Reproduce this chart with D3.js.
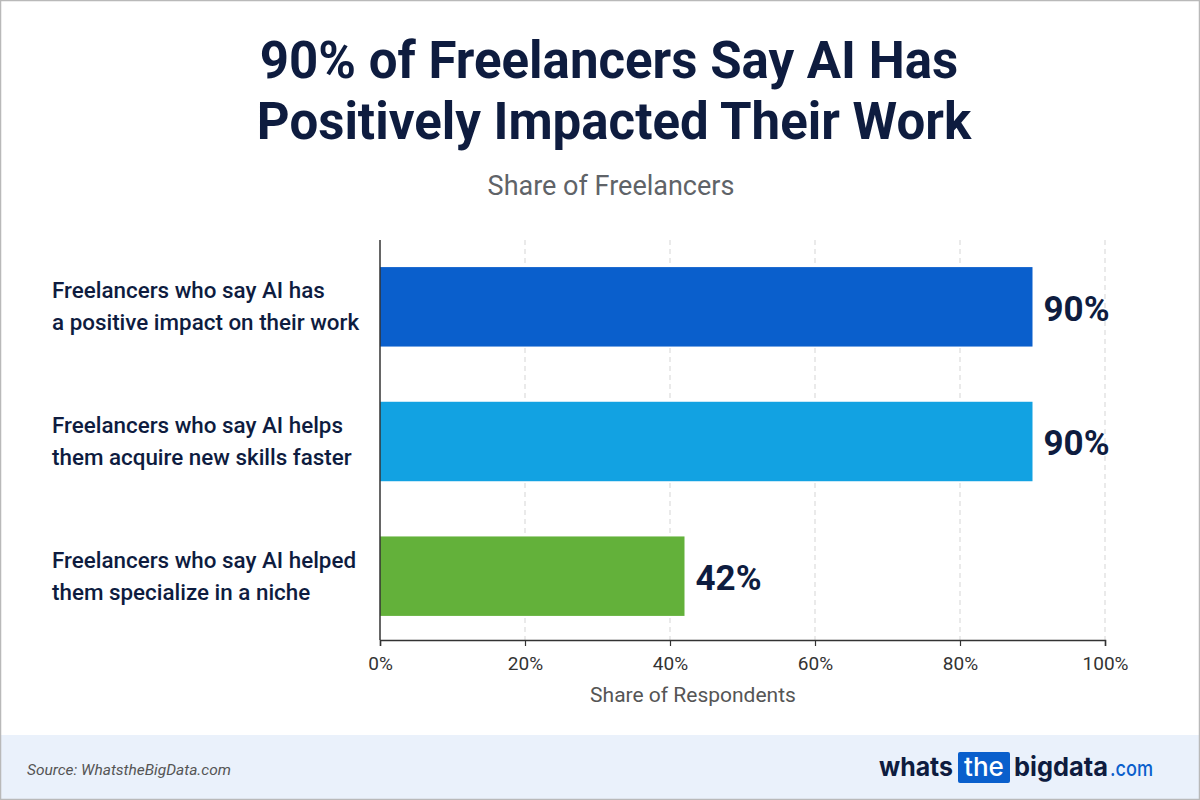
<!DOCTYPE html>
<html><head><meta charset="utf-8">
<script src="https://cdn.jsdelivr.net/npm/d3@7/dist/d3.min.js"></script>
<style>
html,body{margin:0;padding:0;background:#fff;}
svg{display:block;}
</style></head>
<body>
<script>
const categories = [
  ["Freelancers who say AI has", "a positive impact on their work"],
  ["Freelancers who say AI helps", "them acquire new skills faster"],
  ["Freelancers who say AI helped", "them specialize in a niche"]
];
const values = [90, 90, 42];
const barColors = ["#0a5fcc", "#12a2e2", "#63b13a"];
const xTicks = [0, 20, 40, 60, 80, 100];

const W = 1200, H = 800;
const svg = d3.select("body").append("svg").attr("width", W).attr("height", H);
const font = "Roboto, 'Inter', 'Noto Sans', sans-serif";
const navy = "#0e1c3f";

svg.append("rect").attr("x",0).attr("y",0).attr("width",W).attr("height",H).attr("fill","#fff");
// footer
svg.append("rect").attr("x",0).attr("y",735).attr("width",W).attr("height",65).attr("fill","#eaf1fb");
svg.append("rect").attr("x",0.5).attr("y",0.5).attr("width",W-1).attr("height",H-1)
  .attr("fill","none").attr("stroke","#b9b9b9").attr("stroke-width",1.5);

// title
const title = svg.append("text").attr("text-anchor","middle").attr("fill",navy)
  .style("font-family", font).style("font-weight", 700).style("font-size","51px");
title.append("tspan").attr("x",609).attr("y",78).text("90% of Freelancers Say AI Has");
title.append("tspan").attr("x",614).attr("y",139).text("Positively Impacted Their Work");
svg.append("text").attr("x",611).attr("y",195).attr("text-anchor","middle")
  .attr("fill","#5f6368").style("font-family",font).style("font-size","27px")
  .text("Share of Freelancers");

const x0 = 380, x1 = 1105, yTop = 240, yBot = 640;
const x = d3.scaleLinear().domain([0,100]).range([x0,x1]);
const y = d3.scaleBand().domain(d3.range(values.length)).range([yTop, yBot]).paddingInner(0.41).paddingOuter(0.19);

// grid
svg.append("g").selectAll("line").data(xTicks.filter(d=>d>0)).join("line")
  .attr("x1",d=>x(d)).attr("x2",d=>x(d)).attr("y1",yTop).attr("y2",yBot)
  .attr("stroke","#d5d5d5").attr("stroke-dasharray","5,4").attr("stroke-width",1);

// bars
svg.append("g").selectAll("rect").data(values).join("rect")
  .attr("x", x(0)).attr("y",(d,i)=>y(i)+1.5).attr("width",d=>x(d)-x(0)).attr("height",y.bandwidth())
  .attr("fill",(d,i)=>barColors[i]);

// value labels
svg.append("g").selectAll("text").data(values).join("text")
  .attr("x",d=>x(d)+11).attr("y",(d,i)=>y(i)+y.bandwidth()/2+3).attr("dy","0.35em")
  .attr("fill",navy).style("font-family",font).style("font-weight",700).style("font-size","35px")
  .text(d=>d+"%");

// category labels
const cl = svg.append("g").selectAll("text").data(categories).join("text")
  .attr("fill",navy).style("font-family",font).style("font-size","22.4px").style("font-weight",500);
cl.each(function(d,i){
  const t = d3.select(this);
  const cy = y(i)+y.bandwidth()/2;
  d.forEach((line,j)=>{
    t.append("tspan").attr("x",52).attr("y",cy - 15 + j*32).attr("dy","0.35em").text(line);
  });
});

// y axis line
svg.append("line").attr("x1",x0).attr("x2",x0).attr("y1",yTop).attr("y2",yBot)
  .attr("stroke","#333").attr("stroke-width",1.5);

// x axis
const xAxis = svg.append("g").attr("transform",`translate(0,${yBot})`)
  .call(d3.axisBottom(x).tickValues(xTicks).tickFormat(d=>d+"%").tickSize(6).tickPadding(11));
xAxis.select(".domain").attr("stroke","#333").attr("stroke-width",1.5);
xAxis.selectAll(".tick line").attr("stroke","#333").attr("stroke-width",1.2);
xAxis.selectAll("text").attr("fill","#333").style("font-family",font).style("font-size","19px");

svg.append("text").attr("x",693).attr("y",702).attr("text-anchor","middle")
  .attr("fill","#555").style("font-family",font).style("font-size","21px").text("Share of Respondents");

// footer text
svg.append("text").attr("x",27).attr("y",775).attr("fill","#555")
  .style("font-family",font).style("font-style","italic").style("font-size","15.5px")
  .text("Source: WhatstheBigData.com");

const logo = svg.append("g").style("font-family","Inter, Roboto, sans-serif").style("font-weight",700).style("font-size","26px");
const ly = 776;
logo.append("text").attr("x",879).attr("y",ly).attr("fill",navy).attr("textLength",74).attr("lengthAdjust","spacingAndGlyphs").text("whats");
logo.append("rect").attr("x",958).attr("y",752).attr("width",52).attr("height",31).attr("rx",2).attr("fill","#0a5fcc");
logo.append("text").attr("x",984).attr("y",ly).attr("text-anchor","middle").attr("fill","#fff").style("font-weight",500).text("the");
logo.append("text").attr("x",1014).attr("y",ly).attr("fill",navy).attr("textLength",94).attr("lengthAdjust","spacingAndGlyphs").text("bigdata");
logo.append("text").attr("x",1110).attr("y",ly).attr("fill","#0a5fcc").style("font-weight",500).style("font-size","21px").attr("textLength",43).attr("lengthAdjust","spacingAndGlyphs").text(".com");
</script>
</body></html>
